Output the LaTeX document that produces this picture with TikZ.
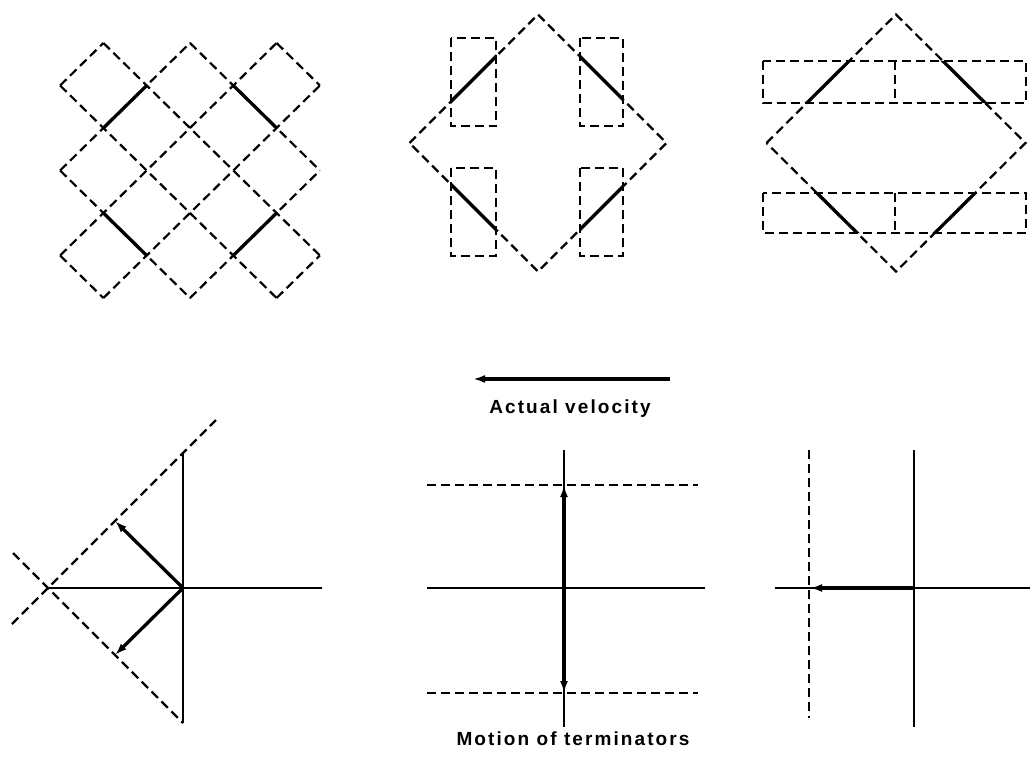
\documentclass[tikz,border=0pt]{standalone}
\usepackage{fontspec}
\usetikzlibrary{arrows.meta}
\newfontfamily\lblfont[LetterSpace=11]{Liberation Sans}
\tikzset{
  dsh/.style={line width=2.2pt, dash pattern=on 9pt off 5pt},
  thinline/.style={line width=1.8pt},
  seg/.style={line width=3.3pt},
  thickarrow/.style={line width=3.3pt, -{Latex[length=12pt,width=8pt]}},
  lbl/.style={font=\lblfont\bfseries\fontsize{19pt}{21pt}\selectfont, inner sep=0pt}
}
\begin{document}
\begin{tikzpicture}[x=1pt,y=-1pt]
\useasboundingbox (0,0) rectangle (1031,765);
% ---------- panel 1: lattice of diamonds ----------
\begin{scope}[shift={(190,170.5)}, x=43.3pt, y=-42.5pt]
  \draw[dsh] (-3,-2) -- (-2,-3);
  \draw[dsh] (-3,0) -- (0,-3);
  \draw[dsh] (-3,2) -- (2,-3);
  \draw[dsh] (-2,3) -- (3,-2);
  \draw[dsh] (0,3) -- (3,0);
  \draw[dsh] (2,3) -- (3,2);
  \draw[dsh] (-3,2) -- (-2,3);
  \draw[dsh] (-3,0) -- (0,3);
  \draw[dsh] (-3,-2) -- (2,3);
  \draw[dsh] (-2,-3) -- (3,2);
  \draw[dsh] (0,-3) -- (3,0);
  \draw[dsh] (2,-3) -- (3,-2);
  \draw[seg] (-1,-2) -- (-2,-1);
  \draw[seg] (1,-2) -- (2,-1);
  \draw[seg] (-2,1) -- (-1,2);
  \draw[seg] (1,2) -- (2,1);
\end{scope}
% ---------- panel 2: diamond with four tall windows ----------
\begin{scope}[shift={(538,143)}]
  \draw[dsh] (-128.5,0) -- (0,-128.5) -- (128.5,0) -- (0,128.5) -- cycle;
  \draw[dsh] (-87,-105) rectangle (-42,-16.6);
  \draw[dsh] (42,-105) rectangle (85,-16.6);
  \draw[dsh] (-87,25) rectangle (-42,113);
  \draw[dsh] (42,25) rectangle (85,113);
  \begin{scope}
    \clip (-87,-105) rectangle (-42,-16.6) (42,-105) rectangle (85,-16.6)
          (-87,25) rectangle (-42,113) (42,25) rectangle (85,113);
    \draw[seg] (-128.5,0) -- (0,-128.5) -- (128.5,0) -- (0,128.5) -- cycle;
  \end{scope}
\end{scope}
% ---------- panel 3: diamond with two wide windows ----------
\begin{scope}[shift={(896,143)}]
  \draw[dsh] (-129.5,0) -- (0,-128.5) -- (129.5,0) -- (0,128.5) -- cycle;
  \draw[dsh] (-133,-82) rectangle (130,-40);
  \draw[dsh] (-1,-82) -- (-1,-40);
  \draw[dsh] (-133,50) rectangle (130,90);
  \draw[dsh] (-1,50) -- (-1,90);
  \begin{scope}
    \clip (-133,-82) rectangle (130,-40) (-133,50) rectangle (130,90);
    \draw[seg] (-129.5,0) -- (0,-128.5) -- (129.5,0) -- (0,128.5) -- cycle;
  \end{scope}
\end{scope}
% ---------- velocity arrow ----------
\coordinate (VA) at (670,379);
\coordinate (VB) at (473,379);
\draw[thickarrow] (VA) -- (VB);
\node[lbl, anchor=base] (vel) at (570,413) {Actual velocity};
% ---------- bottom-left ----------
\coordinate (LO) at (183,588);
\coordinate (LX) at (48,588);
\coordinate (LHe) at (322,588);
\coordinate (LVt) at (183,453);
\coordinate (LVb) at (183,723);
\coordinate (LUa) at (12,624);
\coordinate (LUb) at (216,420);
\coordinate (LLa) at (13,553);
\coordinate (LAu) at (115,521);
\coordinate (LAd) at (115,655);
\draw[thinline] (LX) -- (LHe);
\draw[thinline] (LVt) -- (LVb);
\draw[dsh] (LUa) -- (LUb);
\draw[dsh] (LLa) -- (LVb);
\draw[thickarrow] (LO) -- (LAu);
\draw[thickarrow] (LO) -- (LAd);
% ---------- bottom-middle ----------
\coordinate (MO) at (564,588);
\coordinate (MVt) at (564,450);
\coordinate (MVb) at (564,727);
\coordinate (MHl) at (427,588);
\coordinate (MHr) at (705,588);
\coordinate (MDul) at (427,485);
\coordinate (MDur) at (698,485);
\coordinate (MDdl) at (427,693);
\coordinate (MDdr) at (698,693);
\coordinate (MAu) at (564,485);
\coordinate (MAd) at (564,693);
\draw[thinline] (MVt) -- (MVb);
\draw[thinline] (MHl) -- (MHr);
\draw[dsh] (MDul) -- (MDur);
\draw[dsh] (MDdl) -- (MDdr);
\draw[thickarrow] (MO) -- (MAu);
\draw[thickarrow] (MO) -- (MAd);
% ---------- bottom-right ----------
\coordinate (RO) at (914,588);
\coordinate (RVt) at (914,450);
\coordinate (RVb) at (914,727);
\coordinate (RHl) at (775,588);
\coordinate (RHr) at (1030,588);
\coordinate (RDt) at (809,450);
\coordinate (RDb) at (809,718);
\coordinate (RA) at (810,588);
\draw[thinline] (RVt) -- (RVb);
\draw[thinline] (RHl) -- (RHr);
\draw[dsh] (RDt) -- (RDb);
\draw[thickarrow] (RO) -- (RA);
\node[lbl, anchor=base] (mot) at (573,745) {Motion of terminators};
\end{tikzpicture}
\end{document}
